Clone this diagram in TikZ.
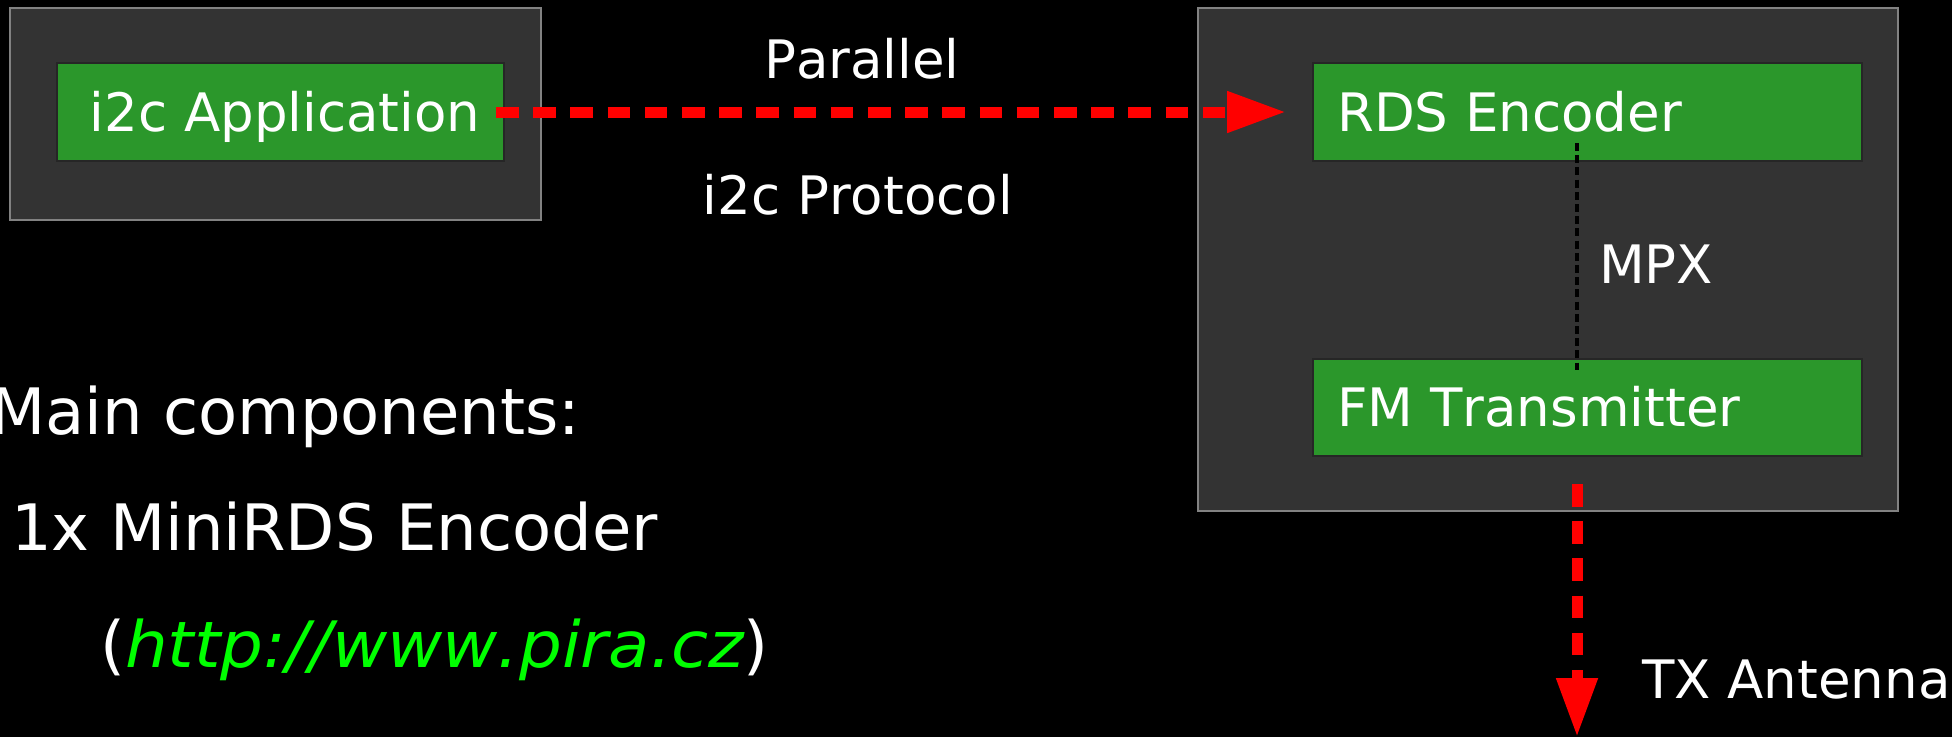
\documentclass[tikz,border=0pt]{standalone}
\usepackage{fontspec}
\setmainfont[Kerning=Off]{DejaVu Sans}
\usetikzlibrary{arrows.meta}
\definecolor{boxgreen}{RGB}{43,151,43}
\definecolor{outerfill}{RGB}{51,51,51}
\definecolor{outerline}{RGB}{130,130,130}
\definecolor{urlgreen}{RGB}{0,255,0}
\begin{document}
\begin{tikzpicture}[x=1pt,y=-1pt,
  outerbox/.style={draw=outerline, line width=1.8pt, fill=outerfill, anchor=north west, inner sep=0pt, outer sep=0pt},
  greenbox/.style={draw=black!85, line width=1.4pt, fill=boxgreen, anchor=north west, inner sep=0pt, outer sep=0pt},
  lbl/.style={text=white, anchor=base west, inner sep=0pt, font=\fontsize{53}{60}\selectfont},
  biglbl/.style={text=white, anchor=base west, inner sep=0pt, font=\fontsize{64}{72}\selectfont},
  redarrow/.style={draw=red, line width=11pt, dash pattern=on 22.5pt off 14.7pt, -{Triangle[length=59pt 0,width=39pt 0]}},
  mpxline/.style={draw=black, line width=3.5pt, dash pattern=on 8pt off 4.2pt}]
\fill[black] (0,0) rectangle (1952,737);
\useasboundingbox (0,0) rectangle (1952,737);
\clip (0,0) rectangle (1952,737);
% containers
\node[outerbox, minimum width=531pt, minimum height=212pt] (left) at (10,8) {};
\node[outerbox, minimum width=700pt, minimum height=503pt] (right) at (1198,8) {};
% component boxes
\node[greenbox, minimum width=447pt, minimum height=98pt] (app) at (57,63) {};
\node[greenbox, minimum width=549pt, minimum height=98pt] (rds) at (1313,63) {};
\node[greenbox, minimum width=549pt, minimum height=97pt] (fm) at (1313,359) {};
% box texts
\node[lbl] (apptext) at (89.5,131) {i2c Application};
\node[lbl] (rdstext) at (1337,131) {RDS Encoder};
\node[lbl] (fmtext) at (1337,426) {FM Transmitter};
% connectors
\coordinate (ant) at (1577,737);
\draw[redarrow] ([xshift=-8pt]app.east) -- ([xshift=-27pt]rds.west);
\draw[mpxline] ([yshift=18pt]rds.south -| ant) -- ([yshift=-11pt]fm.north -| ant);
\draw[redarrow] ([yshift=-28pt]fm.south -| ant) -- (ant);
% connector labels
\node[lbl] (parallel) at (764,78) {Parallel};
\node[lbl] (proto) at (702.5,214) {i2c Protocol};
\node[lbl] (mpx) at (1599,283) {MPX};
\node[lbl] (tx) at (1642,698) {TX Antenna};
% list
\node[biglbl] (main) at (-10,434) {Main components:};
\node[biglbl] (mini) at (11,550) {1x MiniRDS Encoder};
\node[biglbl] (url) at (100,667) {(\scalebox{1.055}[1]{\textcolor{urlgreen}{\itshape http://www.pira.cz}})};
\end{tikzpicture}
\end{document}
